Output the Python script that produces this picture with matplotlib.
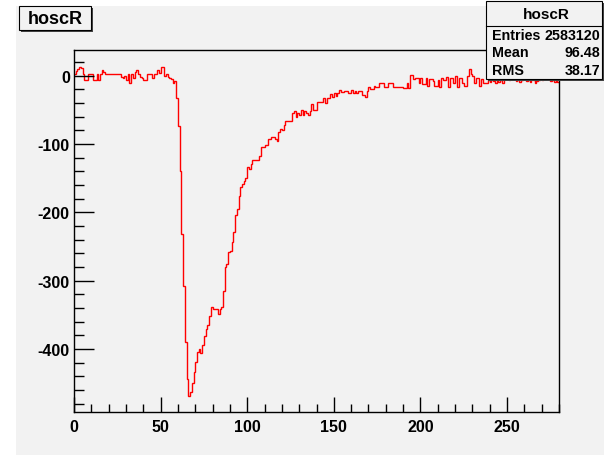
import numpy as np
import matplotlib
matplotlib.use("Agg")
import matplotlib.pyplot as plt
from matplotlib.patches import Rectangle
from matplotlib.lines import Line2D
from matplotlib.ticker import MultipleLocator

plt.rcParams["axes.unicode_minus"] = False

W, H = 604, 456

# histogram contents, one value per bin, bins of width 1 from 0 to 280
bins_0_57 = [3, 7, 10, 13, 11, 3, -6, -6, 3, 3, 3, -6, -6, 2, -6, 3, 9, 6, 2, 3,
             2, 2, 3, 2, 2, 3, 2, -2, -4, -1, -6, 3, -10, 2, -3, 6, 9, 2, -2, -4,
             -6, -6, 2, 2, 2, -3, 3, 3, 9, 4, 13, 13, -1, 2, -2, -4, -5, -10]
bins_58_141 = [-8, -33, -73, -140, -232, -307, -390, -444, -468, -463,
               -449, -434, -419, -404, -400, -405, -394, -381, -370, -365,
               -351, -339, -342, -342, -342, -349, -342, -339, -315, -280,
               -276, -258, -256, -243, -228, -204, -195, -176, -163, -159,
               -154, -149, -134, -136, -129, -124, -124, -124, -124, -117,
               -105, -105, -101, -101, -93, -93, -90, -90, -93, -95,
               -83, -78, -80, -72, -66, -66, -66, -66, -55, -51,
               -61, -55, -57, -50, -57, -51, -55, -57, -51, -41,
               -50, -50, -38, -38]
bins_142_237 = [-39, -39, -32, -40, -32, -32, -27, -31, -26, -29,
                -26, -21, -24, -24, -22, -22, -26, -26, -21, -26,
                -22, -26, -22, -22, -28, -28, -31, -23, -17, -19,
                -19, -15, -16, -16, -11, -11, -11, -17, -17, -11,
                -11, -11, -16, -16, -17, -16, -17, -17, -18, -18,
                -11, -18, 1, 1, -5, -3, -3, -11, -3, -12,
                -12, -3, -15, -5, -5, -8, -15, -15, -7, -17,
                -3, -7, -7, -2, -16, -3, -3, -10, -1, -17,
                -3, -3, -11, -15, -15, 0, 10, 2, -1, -11,
                -3, -3, -15, -5, -11, -11]
bins_238_279 = [-11, -6, -9, -5, -8, -10, -6, -9, -7, -10,
                2, 0, 3, -6, 1, 0, 4, -8, -6, -9,
                -7, -5, 1, -8, -6, -9, 0, -7, -10, -8,
                -6, 2, -6, 0, 3, 1, -1, -8, -6, -9,
                -1, -9]
values = np.array(bins_0_57 + bins_58_141 + bins_142_237 + bins_238_279, dtype=float)
edges = np.arange(0, len(values) + 1)

hist_name = "hoscR"
stat_labels = ["Entries", "Mean", "RMS"]
stat_values = ["2583120", "96.48", "38.17"]

bg = "#f2f2f2"
font = "Liberation Sans"


def fx(px):
    return px / W


def fy(py):
    return 1 - py / H


fig = plt.figure(figsize=(W / 100, H / 100), dpi=100, facecolor="white")
fig.add_artist(Rectangle((fx(16), 0), 1 - fx(16), fy(7), transform=fig.transFigure,
                         facecolor=bg, edgecolor="none", zorder=0))

ax = fig.add_axes([fx(74), fy(413), fx(559) - fx(74), fy(50.7) - fy(413)], zorder=1)
ax.set_facecolor(bg)
ax.stairs(values, edges, color="#ff0000", linewidth=1.0, baseline=None)
ax.set_xlim(0, 280)
ax.set_ylim(-492, 38)

ax.xaxis.set_major_locator(MultipleLocator(50))
ax.xaxis.set_minor_locator(MultipleLocator(10))
ax.yaxis.set_major_locator(MultipleLocator(100))
ax.yaxis.set_minor_locator(MultipleLocator(20))
ax.tick_params(which="both", direction="in", top=False, right=False, color="black", width=1)
ax.tick_params(axis="x", which="major", length=11, pad=5)
ax.tick_params(axis="x", which="minor", length=5.5)
ax.tick_params(axis="y", which="major", length=14.5, pad=3)
ax.tick_params(axis="y", which="minor", length=7.3)
for lab in ax.get_xticklabels() + ax.get_yticklabels():
    lab.set_fontfamily(font)
    lab.set_fontweight("bold")
    lab.set_fontsize(11.5)
for sp in ax.spines.values():
    sp.set_linewidth(1.0)
    sp.set_color("black")

# title box with shadow
fig.add_artist(Rectangle((fx(21), fy(32.5)), fx(91.3) - fx(19.3), fy(7.3) - fy(30.7),
                         transform=fig.transFigure, facecolor="#444444", edgecolor="none", zorder=4))
fig.add_artist(Rectangle((fx(19.3), fy(30.7)), fx(91.3) - fx(19.3), fy(7.3) - fy(30.7),
                         transform=fig.transFigure, facecolor=bg, edgecolor="black",
                         linewidth=0.8, zorder=5))
fig.text(fx(55.3), fy(19.5), hist_name, ha="center", va="center", fontfamily=font,
         fontweight="bold", fontsize=13, zorder=6)

# stats box
sx0, sx1, sy0, sy1 = 486, 602, 2, 79.5
fig.add_artist(Rectangle((fx(sx0 + 2), fy(sy1 + 2)), fx(sx1) - fx(sx0), fy(sy0) - fy(sy1),
                         transform=fig.transFigure, facecolor="#444444", edgecolor="none", zorder=4))
fig.add_artist(Rectangle((fx(sx0), fy(sy1)), fx(sx1) - fx(sx0), fy(sy0) - fy(sy1),
                         transform=fig.transFigure, facecolor=bg, edgecolor="black",
                         linewidth=0.8, zorder=5))
fig.add_artist(Line2D([fx(sx0), fx(sx1)], [fy(26.5), fy(26.5)], transform=fig.transFigure,
                      color="black", linewidth=0.8, zorder=6))
fig.text(fx(546.5), fy(15), hist_name, ha="center", va="center", fontfamily=font,
         fontweight="bold", fontsize=11, zorder=6)
for i, (lab, val) in enumerate(zip(stat_labels, stat_values)):
    yy = fy(35.5 + 17.8 * i)
    fig.text(fx(492), yy, lab, ha="left", va="center", fontfamily=font,
             fontweight="bold", fontsize=10.3, zorder=6)
    fig.text(fx(600.5), yy, val, ha="right", va="center", fontfamily=font,
             fontweight="bold", fontsize=10.3, zorder=6)

fig.savefig("out.png", dpi=100, facecolor=fig.get_facecolor())
